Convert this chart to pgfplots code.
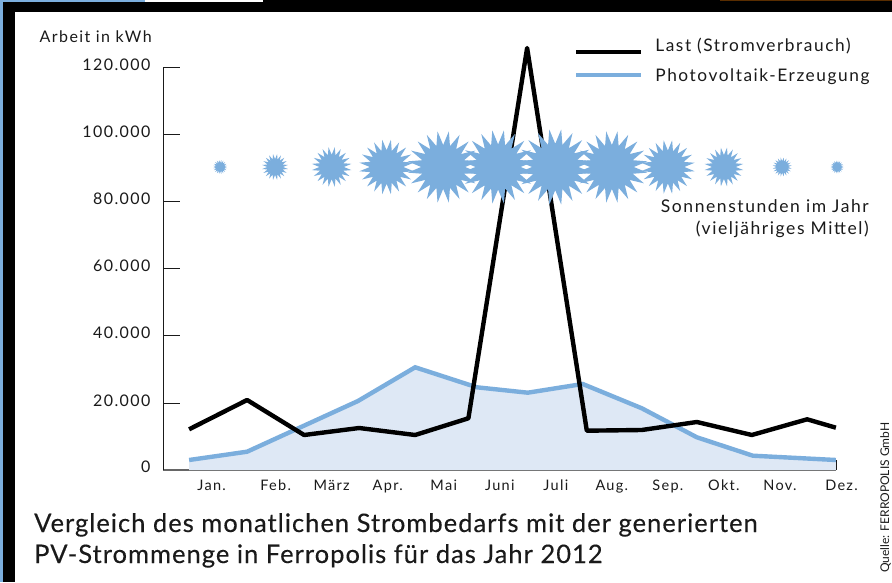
\documentclass[border=0pt]{standalone}
\usepackage{fontspec}
\setmainfont{Lato}
\newfontfamily\lsp[LetterSpace=9]{Lato}
\newfontfamily\lspm[LetterSpace=4,FakeBold=0.25]{Lato}
\usepackage{pgfplots}
\pgfplotsset{compat=1.18}
\definecolor{sunblue}{HTML}{7BAEDD}
\definecolor{areablue}{HTML}{DEE8F5}
\definecolor{ink}{HTML}{1A1A1A}
\pgfdeclareplotmark{sun}{%
  \pgfpathmoveto{\pgfpointpolar{0}{0.61\pgfplotmarksize}}%
  \foreach \i in {1,...,39}{%
    \pgfmathsetmacro{\ang}{\i*9}%
    \ifodd\i
      \pgfpathlineto{\pgfpointpolar{\ang}{\pgfplotmarksize}}%
    \else
      \pgfpathlineto{\pgfpointpolar{\ang}{0.61\pgfplotmarksize}}%
    \fi
  }%
  \pgfpathclose
  \pgfusepathqfill
}
\begin{document}
\begin{tikzpicture}[x=1pt,y=1pt]
\useasboundingbox (0,0) rectangle (892,582);
\fill[white] (0,0) rectangle (892,582);
\fill[black] (3,0) rectangle (15,582);
\fill[black] (3,570) rectangle (892,580);
\fill[sunblue] (0,0) rectangle (3,582);
\fill[sunblue] (0,580) rectangle (145,582);
\fill[white] (145,580) rectangle (263,582);
\fill[black] (263,580) rectangle (892,582);
\fill[black!65!orange] (720,580.5) rectangle (892,582);
\begin{axis}[
  at={(163pt,112pt)}, anchor=south west,
  scale only axis, width=673pt, height=402.5pt,
  xmin=-1.01, xmax=11, ymin=0, ymax=120000,
  clip=false,
  axis x line*=bottom, axis y line*=left,
  axis line style={-},
  x axis line style={draw=black!60,line width=1.2pt},
  y axis line style={draw=ink,line width=0.9pt},
  scaled y ticks=false,
  xtick={0,...,11},
  xticklabels={Jan.\hspace*{16pt},Feb.,März,Apr.,Mai,Juni,Juli,Aug.,Sep.,Okt.,Nov.,\hspace*{11pt}Dez.},
  ytick={0,20000,40000,60000,80000,100000,120000},
  yticklabels={0,\raisebox{-14pt}{20.000},40.000,60.000,80.000,100.000,120.000},
  tick align=inside,
  x tick style={draw=ink,line width=0.8pt,/pgfplots/major tick length=10pt},
  y tick style={draw=ink,line width=0.8pt,/pgfplots/major tick length=17pt},
  xticklabel style={font=\fontsize{14.5}{16}\selectfont\lsp,text=ink,text height=11pt,text depth=3pt,yshift=-6pt},
  yticklabel style={font=\fontsize{16}{18}\selectfont\lsp,text=ink,yshift=3pt,xshift=-9pt,anchor=east},
  legend style={at={(axis description cs:0.6105,1.073)},anchor=north west,draw=none,fill=none,
     font=\fontsize{17.3}{19}\selectfont\lsp,text=ink,
     row sep=15pt,inner sep=0pt,nodes={inner sep=0pt,text=ink}},
  legend cell align=left,
  reverse legend,
]
\addplot[fill=areablue,draw=none,forget plot] coordinates {
  (-0.544,2980) (0.491,5456) (2.47,20572) (3.49,30620) (4.59,24657) (5.50,23047)
  (6.48,25641) (7.535,18396) (8.517,9749) (9.516,4263) (10.998,2980)} \closedcycle;
\addplot[only marks,mark=sun,mark size=7pt,color=sunblue,forget plot] coordinates {(0.01,90340)};
\addplot[only marks,mark=sun,mark size=13pt,color=sunblue,forget plot] coordinates {(0.99,90340)};
\addplot[only marks,mark=sun,mark size=20pt,color=sunblue,forget plot] coordinates {(2.00,90340)};
\addplot[only marks,mark=sun,mark size=27.5pt,color=sunblue,forget plot] coordinates {(2.98,90340)};
\addplot[only marks,mark=sun,mark size=36pt,color=sunblue,forget plot] coordinates {(3.99,90340)};
\addplot[only marks,mark=sun,mark size=37pt,color=sunblue,forget plot] coordinates {(4.97,90340)};
\addplot[only marks,mark=sun,mark size=38pt,color=sunblue,forget plot] coordinates {(5.99,90340)};
\addplot[only marks,mark=sun,mark size=36pt,color=sunblue,forget plot] coordinates {(7.00,90340)};
\addplot[only marks,mark=sun,mark size=27pt,color=sunblue,forget plot] coordinates {(8.00,90340)};
\addplot[only marks,mark=sun,mark size=19.5pt,color=sunblue,forget plot] coordinates {(9.00,90340)};
\addplot[only marks,mark=sun,mark size=9.5pt,color=sunblue,forget plot] coordinates {(10.04,90340)};
\addplot[only marks,mark=sun,mark size=6.5pt,color=sunblue,forget plot] coordinates {(11.02,90340)};
\addplot[sunblue,line width=4.4pt,line join=miter,
  legend image code/.code={\draw[sunblue,line width=4.2pt] (0pt,1pt) -- (65pt,1pt); \path (77pt,0pt);}] coordinates {
  (-0.544,2980) (0.491,5456) (2.47,20572) (3.49,30620) (4.59,24657) (5.50,23047)
  (6.48,25641) (7.535,18396) (8.517,9749) (9.516,4263) (10.998,2980)};
\addlegendentry{Photovoltaik-Erzeugung}
\addplot[black,line width=4.4pt,line join=round,
  legend image code/.code={\draw[black,line width=4.2pt] (0pt,-6pt) -- (65pt,-6pt); \path (77pt,0pt);}] coordinates {
  (-0.544,12135) (0.491,20870) (1.508,10435) (2.49,12520) (3.49,10435) (4.44,15415)
  (5.488,125820) (6.553,11717) (7.535,11926) (8.517,14311) (9.498,10435) (10.485,15116) (10.998,12612)};
\addlegendentry{Last (Stromverbrauch)}
\end{axis}
\node[anchor=base east,font=\fontsize{16}{18}\selectfont\lsp,text=ink,inner sep=0pt] at (152,539) {Arbeit in kWh};
\node[anchor=base east,font=\fontsize{17.5}{19}\selectfont\lsp,text=ink,inner sep=0pt] at (869,369) {Sonnenstunden im Jahr};
\node[anchor=base east,font=\fontsize{17.5}{19}\selectfont\lsp,text=ink,inner sep=0pt] at (869,347) {(vieljähriges Mittel)};
\node[anchor=base west,font=\fontsize{25.5}{30}\selectfont\lspm,text=ink,inner sep=0pt] at (34,50) {Vergleich des monatlichen Strombedarfs mit der generierten};
\node[anchor=base west,font=\fontsize{25.5}{30}\selectfont\lspm,text=ink,inner sep=0pt] at (34,19) {PV-Strommenge in Ferropolis für das Jahr 2012};
\node[anchor=base west,rotate=90,font=\fontsize{12}{13}\selectfont,text=ink,inner sep=0pt] at (889,9) {Quelle: FERROPOLIS GmbH};
\end{tikzpicture}
\end{document}
